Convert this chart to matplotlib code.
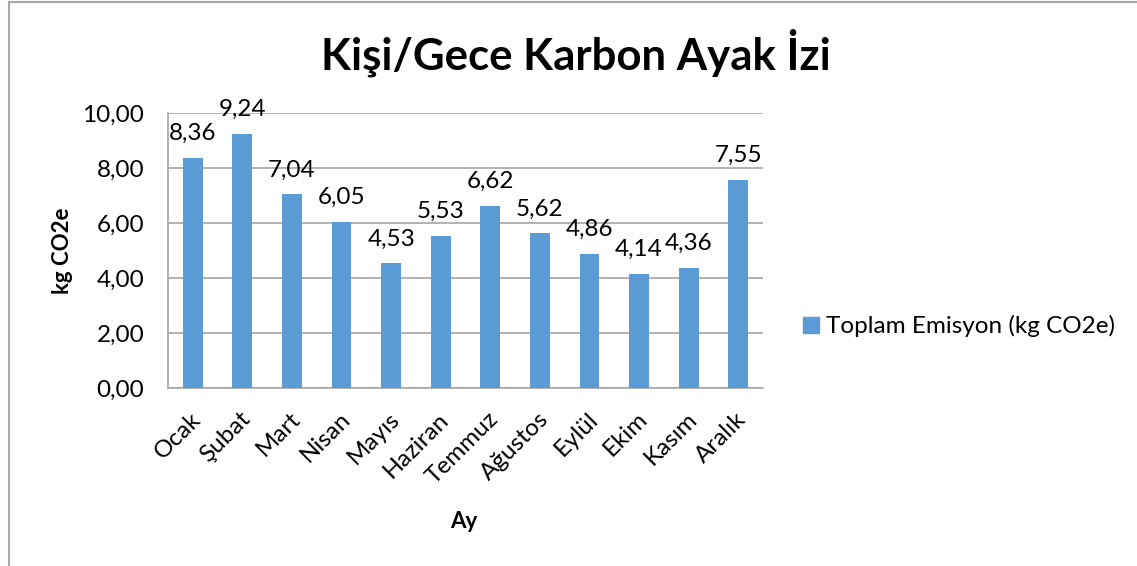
import matplotlib
matplotlib.use('Agg')
import matplotlib.pyplot as plt
from matplotlib.lines import Line2D
from matplotlib.transforms import ScaledTranslation

# months and per-person nightly emissions
months = ['Ocak', 'Şubat', 'Mart', 'Nisan', 'Mayıs', 'Haziran', 'Temmuz',
          'Ağustos', 'Eylül', 'Ekim', 'Kasım', 'Aralık']
emissions = [8.36, 9.24, 7.04, 6.05, 4.53, 5.53, 6.62, 5.62, 4.86, 4.14, 4.36, 7.55]
series_name = 'Toplam Emisyon (kg CO2e)'
yticks = [0, 2, 4, 6, 8, 10]

plt.rcParams['font.family'] = ['Lato', 'DejaVu Sans']

W, H = 1137, 566
fig = plt.figure(figsize=(W / 100, H / 100), dpi=100)
# plot area in pixels: x 168..763, y 113..388
ax = fig.add_axes([168 / W, 1 - 388 / H, (763 - 168) / W, (388 - 113) / H])

x = range(len(months))
bars = ax.bar(x, emissions, width=0.4, color='#5B9BD5', zorder=3)
ax.set_xlim(-0.5, len(months) - 0.5)
ax.set_ylim(0, 10)
ax.set_yticks(yticks)
ax.set_yticklabels(['{:.2f}'.format(v).replace('.', ',') for v in yticks], fontsize=17.5)
ax.yaxis.grid(True, color='#a6a6a6', linewidth=1.2, zorder=0)
ax.tick_params(axis='y', length=0, pad=17)
ax.tick_params(axis='x', length=0, pad=20)
ax.set_xticks(list(x))
ax.set_xticklabels(months, rotation=45, ha='right', va='center', rotation_mode='anchor', fontsize=17.5)
for lab in ax.get_xticklabels():
    lab.set_transform(lab.get_transform() + ScaledTranslation(0.05, 0, fig.dpi_scale_trans))

for s in ['top', 'right']:
    ax.spines[s].set_visible(False)
for s in ['left', 'bottom']:
    ax.spines[s].set_color('#a6a6a6')
    ax.spines[s].set_linewidth(1.2)

#value labels above bars, baseline well clear of the bar top
for b, v in zip(bars, emissions):
    ax.annotate('{:.2f}'.format(v).replace('.', ','), (b.get_x() + b.get_width() / 2, v),
                xytext=(0, 13), textcoords='offset points', ha='center', va='baseline',
                fontsize=17.5, clip_on=False)

ax.set_ylabel('kg CO2e', fontsize=16, fontweight='bold', va='center')
ax.set_xlabel('Ay', fontsize=16, fontweight='bold', va='center')
ax.xaxis.set_label_coords(0.497, -0.487)
ax.yaxis.set_label_coords(-0.178, 0.5)

fig.text(576 / W, 1 - 53 / H, 'Kişi/Gece Karbon Ayak İzi', fontsize=31.5,
         fontweight='bold', ha='center', va='center')

handle = Line2D([], [], marker='s', linestyle='none', color='#5B9BD5', markersize=12)
fig.legend([handle], [series_name], loc='center left', bbox_to_anchor=(790 / W, 1 - 326 / H),
           frameon=False, fontsize=17.5, handlelength=0.7, handletextpad=0.3, borderpad=0)

# chart frame (left and top edges visible)
fig.add_artist(Line2D([8.5 / W, 8.5 / W], [0, 1 - 2 / H], color='#a6a6a6', linewidth=1.5))
fig.add_artist(Line2D([8.5 / W, 1], [1 - 2 / H, 1 - 2 / H], color='#a6a6a6', linewidth=1.5))

fig.savefig('out.png', dpi=100)
